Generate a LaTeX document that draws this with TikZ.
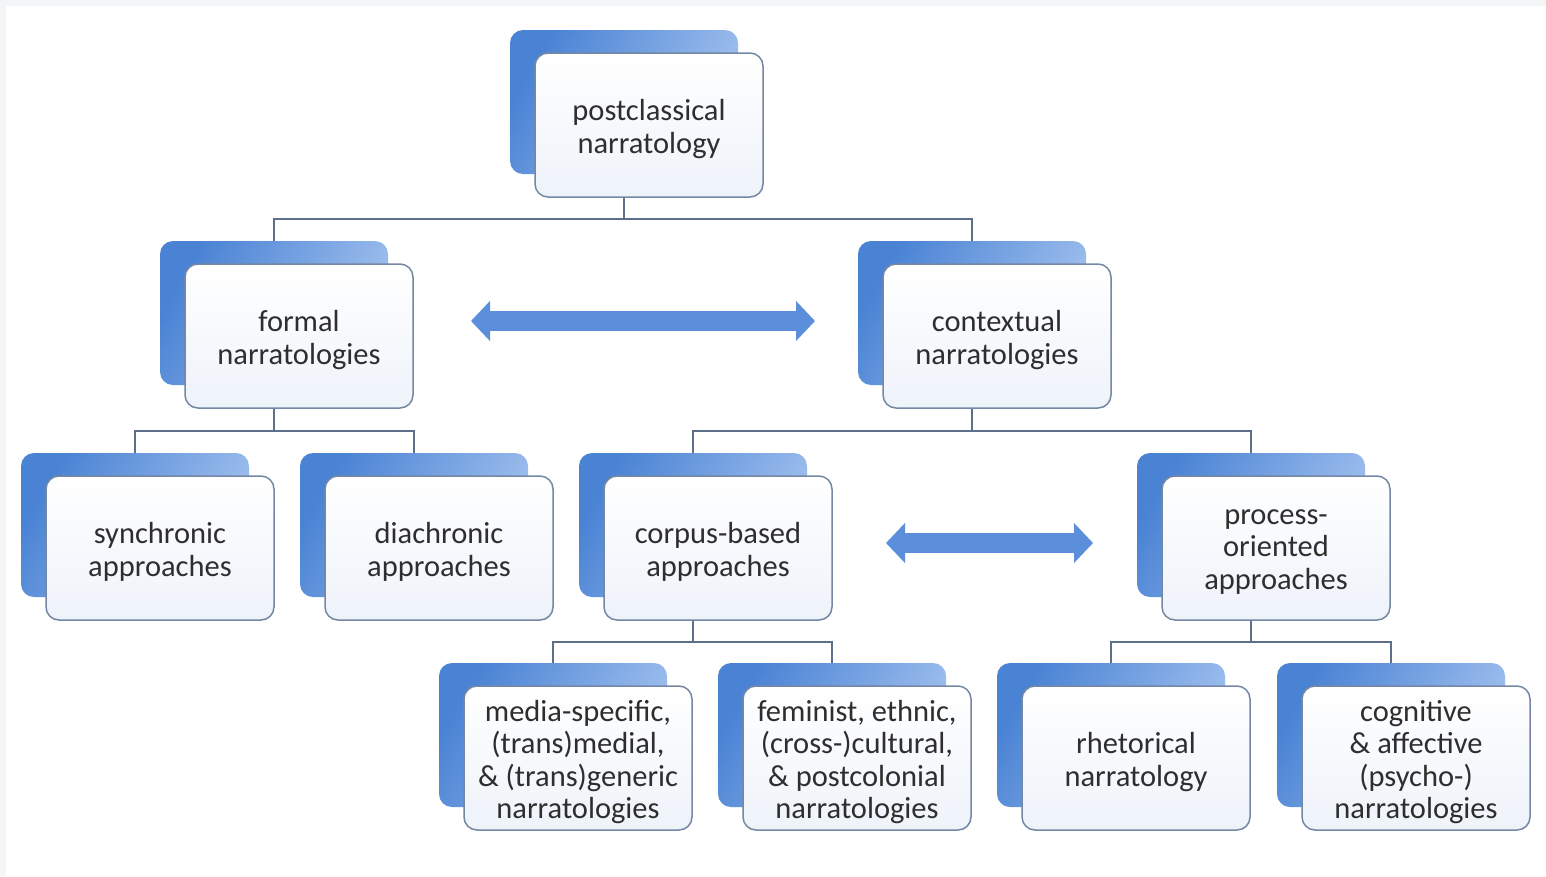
\documentclass[tikz,border=0pt]{standalone}
\usepackage{fontspec}
\setmainfont{Carlito}
\usetikzlibrary{arrows.meta}
\definecolor{bgrey}{HTML}{F3F5F7}
\definecolor{backdark}{HTML}{4A83D4}
\definecolor{backlight}{HTML}{A6C4F0}
\definecolor{frontedge}{HTML}{7487A3}
\definecolor{frontlow}{HTML}{EEF3FA}
\definecolor{txt}{HTML}{2E2E2E}
\definecolor{conn}{HTML}{5E7089}
\definecolor{arrowblue}{HTML}{5B8EDB}
\tikzset{
  backbox/.style={rounded corners=13pt, minimum width=228pt, minimum height=144pt,
    shading=axis, left color=backdark, right color=backlight, shading angle=60, inner sep=0pt},
  frontbox/.style={rounded corners=13pt, minimum width=228pt, minimum height=144pt,
    draw=frontedge, line width=1.5pt, top color=white, bottom color=frontlow, inner sep=0pt},
  boxtext/.style={align=center, text=txt, font=\fontsize{30.5}{32.3}\selectfont, inner sep=0pt},
  conline/.style={draw=conn, line width=2pt},
  bigarrow/.style={draw=arrowblue, line width=20pt,
    {Triangle[length=19pt,width=39pt]}-{Triangle[length=19pt,width=39pt]}}
}
\newcommand\grp[4]{%
  \node[backbox] (#1b) at (#2-25,#3-23) {};
  \node[frontbox] (#1) at (#2,#3) {};
  \node[boxtext] (#1t) at (#2,#3+4) {#4};
}
\begin{document}
\begin{tikzpicture}[x=1pt,y=-1pt]
\fill[bgrey] (0,0) rectangle (1546,876);
\fill[white] (6,6) rectangle (1546,876);
\useasboundingbox (0,0) rectangle (1546,876);
\grp{top}{649}{125}{postclassical\\narratology}
\grp{formal}{299}{336}{formal\\narratologies}
\grp{context}{997}{336}{contextual\\narratologies}
\grp{sync}{160}{548}{synchronic\\approaches}
\grp{diac}{439}{548}{diachronic\\approaches}
\grp{corpus}{718}{548}{corpus-based\\approaches}
\grp{process}{1276}{548}{process-\\oriented\\approaches}
\grp{media}{578}{758}{media-specific,\\(trans)medial,\\\& (trans)generic\\narratologies}
\grp{femin}{857}{758}{feminist, ethnic,\\(cross-)cultural,\\\& postcolonial\\narratologies}
\grp{rhet}{1136}{758}{rhetorical\\narratology}
\grp{cogn}{1416}{758}{cognitive\\\& affective\\(psycho-)\\narratologies}
% tree connectors
\draw[conline] (topb |- top.south) -- ++(0,21) -| (formalb.north);
\draw[conline] (topb |- top.south) -- ++(0,21) -| (contextb.north);
\draw[conline] (formalb |- formal.south) -- ++(0,22) -| (syncb.north);
\draw[conline] (formalb |- formal.south) -- ++(0,22) -| (diacb.north);
\draw[conline] (contextb |- context.south) -- ++(0,22) -| (corpusb.north);
\draw[conline] (contextb |- context.south) -- ++(0,22) -| (processb.north);
\draw[conline] (corpusb |- corpus.south) -- ++(0,21) -| (mediab.north);
\draw[conline] (corpusb |- corpus.south) -- ++(0,21) -| (feminb.north);
\draw[conline] (processb |- process.south) -- ++(0,21) -| (rhetb.north);
\draw[conline] (processb |- process.south) -- ++(0,21) -| (cognb.north);
% double arrows
\coordinate (a1l) at (471,321);
\coordinate (a1r) at (815,321);
\coordinate (a2l) at (886,543);
\coordinate (a2r) at (1093,543);
\draw[bigarrow] (a1l) -- (a1r);
\draw[bigarrow] (a2l) -- (a2r);
\end{tikzpicture}
\end{document}
